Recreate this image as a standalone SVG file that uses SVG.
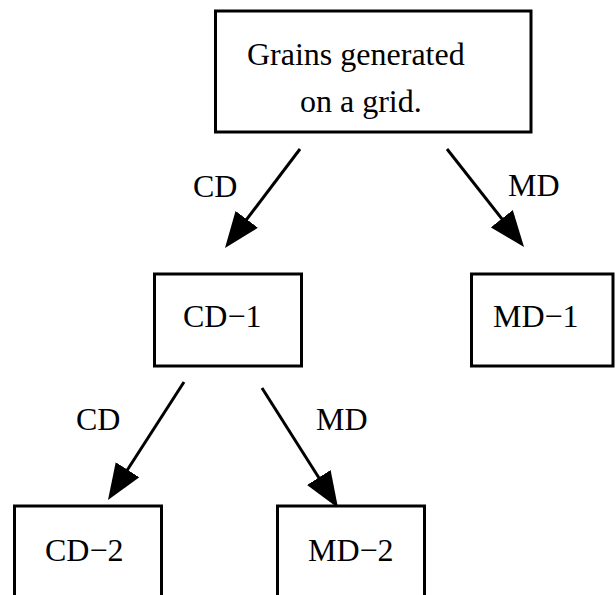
<svg xmlns="http://www.w3.org/2000/svg" width="616" height="595" viewBox="0 0 616 595">
<style>
.box{fill:#fff;stroke:#000;stroke-width:3}
.t{font-family:"Liberation Serif","Times New Roman",serif;font-size:32px;fill:#000}
.edge{stroke:#000;stroke-width:3;fill:none;marker-end:url(#ah)}
</style>
<defs>
<marker id="ah" markerUnits="userSpaceOnUse" markerWidth="36" markerHeight="28" refX="12" refY="14" orient="auto">
<path d="M0,0 L36,14 L0,28 z" fill="#000"/>
</marker>
</defs>
<rect width="616" height="595" fill="#fff"/>
<g id="connectors">
<line class="edge" x1="300" y1="149" x2="239.5" y2="228.9"/>
<line class="edge" x1="447" y1="149" x2="509.2" y2="228.1"/>
<line class="edge" x1="184" y1="382" x2="121" y2="479.8"/>
<line class="edge" x1="262" y1="388" x2="325.2" y2="487.7"/>
<text class="t" x="193" y="197">CD</text>
<text class="t" x="508" y="196">MD</text>
<text class="t" x="76" y="430">CD</text>
<text class="t" x="316" y="430">MD</text>
</g>
<g id="root">
<rect class="box" x="215.5" y="11" width="315.5" height="121"/>
<text class="t" x="247" y="65">Grains generated</text>
<text class="t" x="300" y="112">on a grid.</text>
</g>
<g id="cd1">
<rect class="box" x="154.5" y="274" width="147" height="92"/>
<text class="t" x="183" y="327">CD−1</text>
</g>
<g id="md1">
<rect class="box" x="471.5" y="274" width="141.5" height="92"/>
<text class="t" x="493" y="327">MD−1</text>
</g>
<g id="cd2">
<rect class="box" x="14.5" y="506" width="147" height="120"/>
<text class="t" x="45" y="561">CD−2</text>
</g>
<g id="md2">
<rect class="box" x="277.5" y="506" width="147" height="120"/>
<text class="t" x="308" y="561">MD−2</text>
</g>
</svg>
